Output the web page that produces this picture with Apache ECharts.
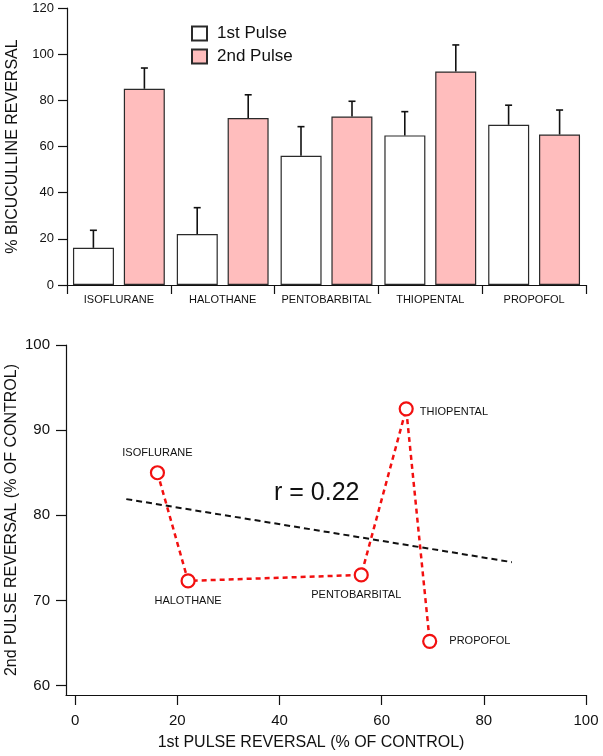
<!DOCTYPE html>
<html>
<head>
<meta charset="utf-8">
<script src="https://cdn.jsdelivr.net/npm/echarts@6/dist/echarts.min.js"></script>
<style>
html, body { margin: 0; padding: 0; background: #fff; }
#main { width: 603px; height: 756px; }
</style>
</head>
<body>
<div id="main"></div>
<script>
// anaesthetics, same order in both panels
var drugs = ['ISOFLURANE', 'HALOTHANE', 'PENTOBARBITAL', 'THIOPENTAL', 'PROPOFOL'];
var pulse1 = [16.1, 22.1, 56.0, 64.8, 69.4];
var pulse1Err = [7.6, 11.4, 12.6, 10.3, 8.5];
var pulse2 = [85.0, 72.3, 73.0, 92.5, 65.2];
var pulse2Err = [9.0, 10.1, 6.6, 11.5, 10.6];

// regression line
var trendX = [10, 85.5];
var trendY = [81.9, 74.5];
var rText = 'r = 0.22';

var barTicks = [0, 20, 40, 60, 80, 100, 120];
var xTicks = [0, 20, 40, 60, 80, 100];
var yTicks = [60, 70, 80, 90, 100];

var FONT = 'Liberation Sans';
var INK = '#111';
var PINK = '#ffbdbd';
var RED = '#f21010';

function errData(vals, errs) {
    var out = [];
    for (var i = 0; i < vals.length; i++) out.push([i, vals[i], errs[i]]);
    return out;
}

function errRender(offset) {
    return function (params, api) {
        var v = api.value(1), e = api.value(2);
        var p0 = api.coord([api.value(0), v]);
        var p1 = api.coord([api.value(0), v + e]);
        var x = p0[0] + offset;
        var st = { stroke: INK, lineWidth: 1.6 };
        return {
            type: 'group',
            children: [
                { type: 'line', shape: { x1: x, y1: p0[1], x2: x, y2: p1[1] }, style: st },
                { type: 'line', shape: { x1: x - 3.5, y1: p1[1], x2: x + 3.5, y2: p1[1] }, style: st }
            ]
        };
    };
}

var pts = [];
var labelPlace = {
    ISOFLURANE: { position: 'top', distance: 7 },
    HALOTHANE: { position: 'bottom', distance: 7 },
    PENTOBARBITAL: { position: 'bottom', distance: 7, offset: [-5, 0] },
    THIOPENTAL: { position: 'right', distance: 6, offset: [0, 3] },
    PROPOFOL: { position: 'right', distance: 12 }
};
for (var i = 0; i < drugs.length; i++) {
    pts.push({ name: drugs[i], value: [pulse1[i], pulse2[i]], label: labelPlace[drugs[i]] });
}
var trend = [];
for (var j = 0; j < trendX.length; j++) trend.push([trendX[j], trendY[j]]);

var axisLine = { show: true, onZero: false, lineStyle: { color: INK, width: 1.2 } };
var tick = { show: true, inside: false, length: 9, lineStyle: { color: INK, width: 1.2 } };

var option = {
    animation: false,
    backgroundColor: '#fff',
    textStyle: { fontFamily: FONT },
    grid: [
        { left: 67, right: 17, top: 8, bottom: 471, outerBoundsMode: 'none', containLabel: false },
        { left: 66, right: 17, top: 345, bottom: 61, outerBoundsMode: 'none', containLabel: false }
    ],
    legend: {
        data: ['1st Pulse', '2nd Pulse'],
        orient: 'vertical',
        left: 191,
        top: 25,
        padding: 0,
        itemWidth: 15,
        itemHeight: 14,
        itemGap: 6,
        icon: 'rect',
        textStyle: { fontFamily: FONT, fontSize: 17, color: INK, padding: [0, 0, 0, 5], lineHeight: 16 }
    },
    xAxis: [
        {
            gridIndex: 0,
            type: 'category',
            data: drugs,
            axisLine: axisLine,
            axisTick: tick,
            axisLabel: { fontFamily: FONT, fontSize: 11, color: INK, margin: 9, interval: 0 }
        },
        {
            gridIndex: 1,
            type: 'value',
            min: -1.8,
            max: 100,
            axisLine: axisLine,
            axisTick: { show: true, length: 10, lineStyle: { color: INK, width: 1.2 }, customValues: xTicks },
            axisLabel: { fontFamily: FONT, fontSize: 15, color: INK, margin: 18, customValues: xTicks },
            splitLine: { show: false },
            name: '1st PULSE REVERSAL (% OF CONTROL)',
            nameLocation: 'middle',
            nameGap: 40,
            nameMoveOverlap: false,
            nameTextStyle: { fontFamily: FONT, fontSize: 16, color: INK, padding: [0, 30, 0, 0] }
        }
    ],
    yAxis: [
        {
            gridIndex: 0,
            type: 'value',
            min: 0,
            max: 120,
            interval: 20,
            axisLine: axisLine,
            axisTick: tick,
            axisLabel: { fontFamily: FONT, fontSize: 13, color: INK, margin: 13, customValues: barTicks },
            splitLine: { show: false },
            name: '% BICUCULLINE REVERSAL',
            nameLocation: 'middle',
            nameGap: 46,
            nameMoveOverlap: false,
            nameTextStyle: { fontFamily: FONT, fontSize: 16, color: INK }
        },
        {
            gridIndex: 1,
            type: 'value',
            min: 58.9,
            max: 100,
            axisLine: axisLine,
            axisTick: { show: true, length: 10, lineStyle: { color: INK, width: 1.2 }, customValues: yTicks },
            axisLabel: { fontFamily: FONT, fontSize: 15, color: INK, margin: 16, customValues: yTicks },
            splitLine: { show: false },
            name: '2nd PULSE REVERSAL (% OF CONTROL)',
            nameLocation: 'middle',
            nameGap: 46,
            nameMoveOverlap: false,
            nameTextStyle: { fontFamily: FONT, fontSize: 16, color: INK }
        }
    ],
    graphic: [
        {
            type: 'text',
            left: 274,
            top: 481,
            style: { text: rText, font: '25px "Liberation Sans"', fill: INK }
        }
    ],
    series: [
        {
            name: '1st Pulse',
            type: 'bar',
            xAxisIndex: 0,
            yAxisIndex: 0,
            barWidth: 41,
            barGap: '24%',
            data: pulse1,
            itemStyle: { color: '#fff', borderColor: '#2a2a2a', borderWidth: 1.2 }
        },
        {
            name: '2nd Pulse',
            type: 'bar',
            xAxisIndex: 0,
            yAxisIndex: 0,
            barWidth: 41,
            data: pulse2,
            itemStyle: { color: PINK, borderColor: '#2a2a2a', borderWidth: 1.2 }
        },
        {
            name: 'err1',
            type: 'custom',
            xAxisIndex: 0,
            yAxisIndex: 0,
            renderItem: errRender(-25.5),
            encode: { x: 0, y: 1 },
            data: errData(pulse1, pulse1Err),
            z: 5
        },
        {
            name: 'err2',
            type: 'custom',
            xAxisIndex: 0,
            yAxisIndex: 0,
            renderItem: errRender(25.5),
            encode: { x: 0, y: 1 },
            data: errData(pulse2, pulse2Err),
            z: 5
        },
        {
            name: 'trend',
            type: 'line',
            xAxisIndex: 1,
            yAxisIndex: 1,
            data: trend,
            symbol: 'none',
            lineStyle: { color: INK, width: 2, type: [6, 4] },
            z: 2
        },
        {
            name: 'drugs',
            type: 'line',
            xAxisIndex: 1,
            yAxisIndex: 1,
            data: pts,
            symbol: 'circle',
            symbolSize: 13,
            lineStyle: { color: RED, width: 2.5, type: [5, 4] },
            itemStyle: { color: '#fff', borderColor: RED, borderWidth: 2.2 },
            label: { show: true, formatter: '{b}', fontFamily: FONT, fontSize: 11, color: INK },
            z: 3
        }
    ]
};

var myChart = echarts.init(document.getElementById('main'));
myChart.setOption(option);
</script>
</body>
</html>
